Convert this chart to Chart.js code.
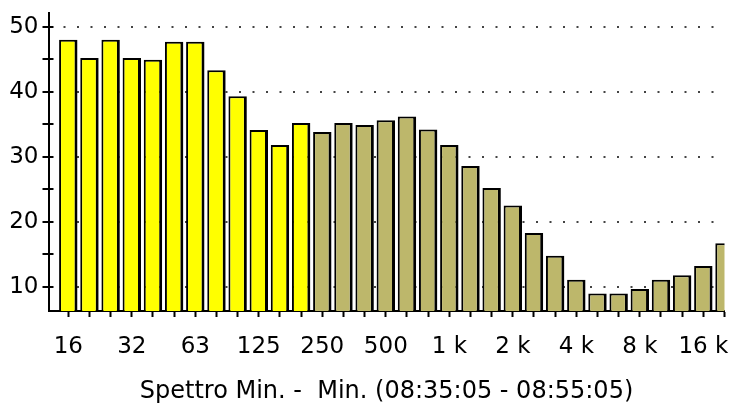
<!DOCTYPE html>
<html lang="it">
<head>
<meta charset="UTF-8">
<title>Spettro Min.</title>
<script src="https://cdn.jsdelivr.net/npm/chart.js"></script>
<style>
    body {
        margin: 0;
        background: #fff;
    }
    #box {
        width: 730px;
        height: 408px;
    }
</style>
</head>
<body>
<div id="box"><canvas id="spectrum"></canvas></div>
<script>
    // bande di terzo d'ottava
    const bands = ['16', '20', '25', '31.5', '40', '50', '63', '80', '100', '125', '160', '200',
        '250', '315', '400', '500', '630', '800', '1 k', '1.25 k', '1.6 k', '2 k', '2.5 k', '3.15 k',
        '4 k', '5 k', '6.3 k', '8 k', '10 k', '12.5 k', '16 k', '20 k'];
    // etichette d'ottava mostrate sotto l'asse (una ogni tre bande)
    const octaveLabels = ['16', '32', '63', '125', '250', '500', '1 k', '2 k', '4 k', '8 k', '16 k'];
    const levels = [48.0, 45.2, 48.0, 45.2, 44.9, 47.7, 47.7, 43.3, 39.3, 34.1, 31.8, 35.2,
        33.8, 35.2, 34.9, 35.6, 36.2, 34.2, 31.8, 28.6, 25.2, 22.5, 18.3, 14.8,
        11.1, 9.0, 9.0, 9.7, 11.1, 11.8, 13.2, 16.7];
    const lowBandCount = 12;            // barre gialle (basse frequenze)
    const yGridValues = [10, 20, 30, 40, 50];
    const yTickMarks = [10, 15, 20, 25, 30, 35, 40, 45, 50];
    const titleText = 'Spettro Min. -  Min. (08:35:05 - 08:55:05)';

    const FONT = "'DejaVu Sans', sans-serif";

    // tacche dell'asse y che attraversano la linea dell'asse
    const crossTicks = {
        id: 'crossTicks',
        afterDraw(chart) {
            const { ctx, chartArea } = chart;
            const y = chart.scales.y;
            ctx.save();
            ctx.strokeStyle = '#000';
            ctx.lineWidth = 2;
            ctx.beginPath();
            yTickMarks.forEach(v => {
                const py = Math.round(y.getPixelForValue(v));
                ctx.moveTo(chartArea.left - 6, py);
                ctx.lineTo(chartArea.left + 5, py);
            });
            ctx.stroke();
            ctx.restore();
        }
    };

    const points = levels.map((v, i) => ({ x: i, y: v }));

    new Chart(document.getElementById('spectrum'), {
        type: 'bar',
        data: {
            datasets: [{
                data: points,
                backgroundColor: ctx => ctx.dataIndex < lowBandCount ? '#ffff00' : '#bdb76b',
                borderColor: '#000',
                borderWidth: { top: 2, left: 2, right: 3, bottom: 0 },
                borderSkipped: 'bottom',
                barPercentage: 0.87,
                categoryPercentage: 1.0
            }]
        },
        options: {
            responsive: true,
            maintainAspectRatio: false,
            animation: false,
            devicePixelRatio: 1,
            layout: { padding: { top: 13, right: 5.5, left: 0, bottom: 0 } },
            plugins: {
                legend: { display: false },
                tooltip: { enabled: false }
            },
            scales: {
                x: {
                    type: 'linear',
                    offset: false,
                    min: -0.935,
                    max: 31,
                    afterBuildTicks: scale => {
                        scale.ticks = bands.map((b, i) => ({ value: i }));
                    },
                    afterFit: scale => {
                        scale.height = 97;
                        scale.paddingLeft = 0;
                        scale.paddingRight = 0;
                    },
                    ticks: {
                        autoSkip: false,
                        maxRotation: 0,
                        padding: 16,
                        color: '#000',
                        font: { family: FONT, size: 23 },
                        callback: v => (v % 3 === 0 ? octaveLabels[v / 3] : '')
                    },
                    grid: {
                        offset: false,
                        drawOnChartArea: false,
                        drawTicks: true,
                        tickLength: 6,
                        tickColor: '#000',
                        tickWidth: 2
                    },
                    border: { display: true, color: '#000', width: 2 },
                    title: {
                        display: true,
                        text: titleText,
                        color: '#000',
                        font: { family: FONT, size: 24 },
                        padding: { top: 0, bottom: 2 }
                    }
                },
                y: {
                    min: 6.3,
                    max: 52.1,
                    afterBuildTicks: scale => {
                        scale.ticks = yGridValues.map(v => ({ value: v }));
                    },
                    afterFit: scale => {
                        scale.width = 48.5;
                        scale.paddingTop = 0;
                        scale.paddingBottom = 0;
                    },
                    ticks: {
                        padding: 10,
                        color: '#000',
                        font: { family: FONT, size: 23 }
                    },
                    grid: {
                        drawTicks: false,
                        color: '#444',
                        lineWidth: 2
                    },
                    border: { display: true, color: '#000', width: 2, dash: [2, 11.5] }
                }
            }
        },
        plugins: [crossTicks]
    });
</script>
</body>
</html>
